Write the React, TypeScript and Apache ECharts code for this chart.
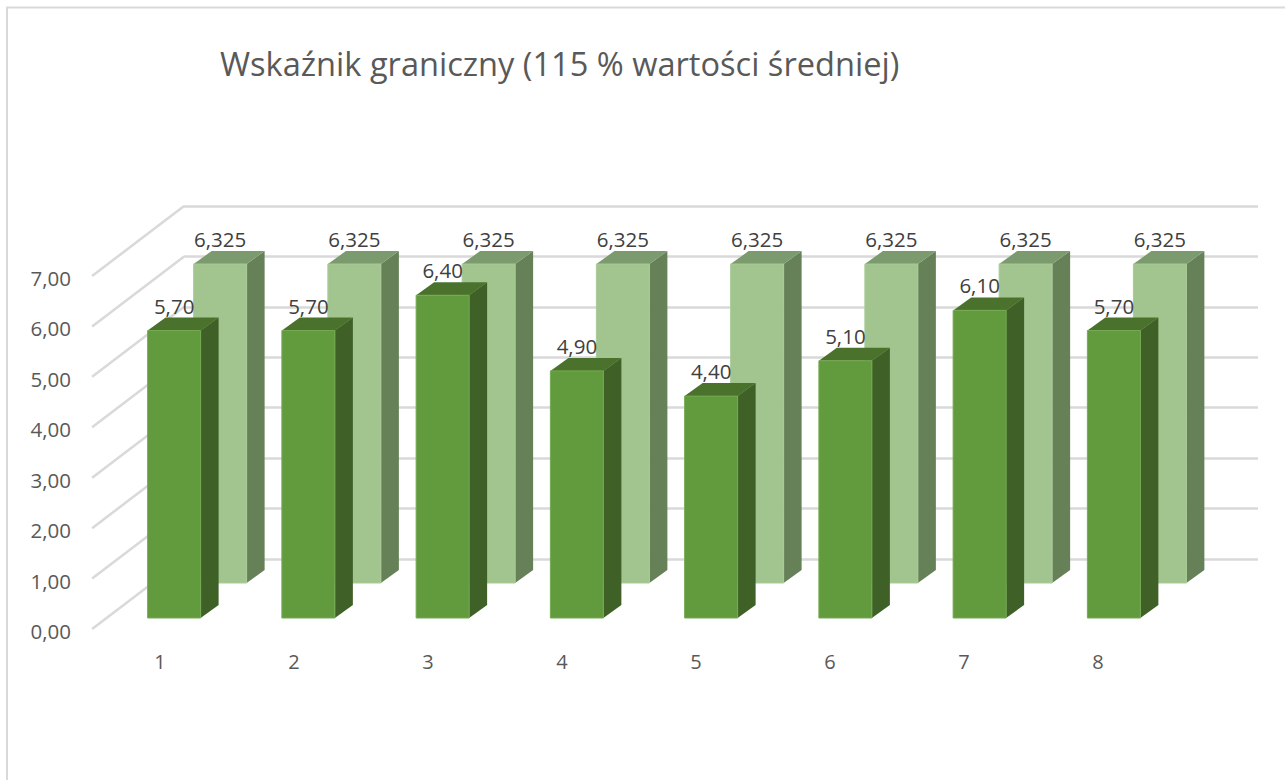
import React, { useEffect, useRef } from "react";
import * as echarts from "echarts";

const categories = ["1", "2", "3", "4", "5", "6", "7", "8"];
const actualValues = [5.7, 5.7, 6.4, 4.9, 4.4, 5.1, 6.1, 5.7];
const limitValues = [6.325, 6.325, 6.325, 6.325, 6.325, 6.325, 6.325, 6.325];
const actualLabels = ["5,70", "5,70", "6,40", "4,90", "4,40", "5,10", "6,10", "5,70"];
const limitLabels = ["6,325", "6,325", "6,325", "6,325", "6,325", "6,325", "6,325", "6,325"];
const axisTicks = [0, 1, 2, 3, 4, 5, 6, 7];
const titleText = "Wskaźnik graniczny (115 % wartości średniej)";
const FONT = "'Open Sans', sans-serif";

const backFace = { face: "#A2C58F", side: "#668058", top: "#7B9A6E", edge: "#A9CB96" };
const frontFace = { face: "#629A3E", side: "#3F6127", top: "#4A722C", edge: "#75AA52" };

const FLOOR_DX = -92;
const FLOOR_DY = 70;
const BAR_W = 53;
const DEPTH_X = 18;
const DEPTH_Y = 13;

function barRenderer(values: number[], xOff: number, yOff: number, c: typeof backFace) {
  return (params: any, api: any) => {
    const i = params.dataIndex;
    const base = api.coord([i, 0]);
    const top = api.coord([i, values[i]]);
    const x0 = base[0] + xOff;
    const x1 = x0 + BAR_W;
    const yb = base[1] + yOff;
    const yt = top[1] + yOff;
    return {
      type: "group",
      children: [
        { type: "polygon", shape: { points: [[x1, yb], [x1 + DEPTH_X, yb - DEPTH_Y], [x1 + DEPTH_X, yt - DEPTH_Y], [x1, yt]] }, style: { fill: c.side } },
        { type: "polygon", shape: { points: [[x0, yt], [x1, yt], [x1 + DEPTH_X, yt - DEPTH_Y], [x0 + DEPTH_X, yt - DEPTH_Y]] }, style: { fill: c.top } },
        { type: "rect", shape: { x: x0, y: yt, width: BAR_W, height: yb - yt }, style: { fill: c.face, stroke: c.edge, lineWidth: 1 } },
      ],
    };
  };
}

function labelRenderer(values: number[], labels: string[], xOff: number, yOff: number) {
  return (params: any, api: any) => {
    const i = params.dataIndex;
    const top = api.coord([i, values[i]]);
    return {
      type: "text",
      x: top[0] + xOff + BAR_W / 2,
      y: top[1] + yOff - 25,
      style: { text: labels[i], fill: "#404040", font: `20.5px ${FONT}`, align: "center", verticalAlign: "middle" },
    };
  };
}

export default function App() {
  const ref = useRef<HTMLDivElement>(null);
  useEffect(() => {
    const chart = echarts.init(ref.current!, undefined, { renderer: "svg" });
    chart.setOption({
      animation: false,
      backgroundColor: "#fff",
      title: {
        text: titleText,
        left: 215,
        top: 42,
        textStyle: { fontFamily: FONT, fontSize: 32.6, fontWeight: "normal", color: "#595959" },
      },
      grid: [
        { left: 184, top: 206, width: 1074, height: 353 },
        { left: 93, top: 278, width: 1072, height: 353 },
      ],
      xAxis: [
        { type: "category", gridIndex: 0, data: categories, axisLine: { show: false }, axisTick: { show: false }, axisLabel: { show: false }, splitLine: { show: false } },
        {
          type: "category", gridIndex: 1, data: categories,
          axisLine: { show: false }, axisTick: { show: false }, splitLine: { show: false },
          axisLabel: { fontFamily: FONT, fontSize: 20, color: "#595959", margin: 20 },
        },
      ],
      yAxis: [
        {
          type: "value", gridIndex: 0, min: 0, max: 7, interval: 1,
          axisLine: { show: false }, axisTick: { show: false }, axisLabel: { show: false },
          splitLine: { show: true, lineStyle: { color: "#D9D9D9", width: 2.5 } },
        },
        {
          type: "value", gridIndex: 1, min: 0, max: 7, interval: 1,
          axisLine: { show: false }, axisTick: { show: false }, splitLine: { show: false },
          axisLabel: { fontFamily: FONT, fontSize: 20.5, color: "#595959", margin: 22, formatter: (v: number) => v.toFixed(2).replace(".", ",") },
        },
      ],
      series: [
        {
          type: "custom", name: "Ściana", xAxisIndex: 0, yAxisIndex: 0, z: 1, silent: true,
          data: axisTicks.map((t) => [0, t]),
          renderItem: (params: any, api: any) => {
            const p = api.coord([0, axisTicks[params.dataIndex]]);
            const x = p[0] - 67;
            return {
              type: "line",
              shape: { x1: x, y1: p[1], x2: x + FLOOR_DX, y2: p[1] + FLOOR_DY },
              style: { stroke: "#D9D9D9", lineWidth: 2.5 },
            };
          },
        },
        {
          type: "custom", name: "Wskaźnik graniczny", xAxisIndex: 0, yAxisIndex: 0, z: 2,
          data: limitValues.map((v, i) => [i, v]),
          renderItem: barRenderer(limitValues, -31 - BAR_W / 2, 24, backFace),
        },
        {
          type: "custom", name: "Wskaźnik", xAxisIndex: 0, yAxisIndex: 0, z: 3,
          data: actualValues.map((v, i) => [i, v]),
          renderItem: barRenderer(actualValues, -77 - BAR_W / 2, 59, frontFace),
        },
        {
          type: "custom", name: "Etykiety graniczne", xAxisIndex: 0, yAxisIndex: 0, z: 4,
          data: limitValues.map((v, i) => [i, v]),
          renderItem: labelRenderer(limitValues, limitLabels, -31 - BAR_W / 2, 24),
        },
        {
          type: "custom", name: "Etykiety", xAxisIndex: 0, yAxisIndex: 0, z: 5,
          data: actualValues.map((v, i) => [i, v]),
          renderItem: labelRenderer(actualValues, actualLabels, -77 - BAR_W / 2, 59),
        },
        { type: "line", xAxisIndex: 1, yAxisIndex: 1, data: [], silent: true },
      ],
      graphic: [
        { type: "rect", shape: { x: 7, y: 7.5, width: 1290, height: 790 }, style: { fill: "none", stroke: "#D9D9D9", lineWidth: 2 }, z: 0, silent: true },
      ],
    });
    return () => chart.dispose();
  }, []);
  return <div ref={ref} style={{ position: "fixed", left: 0, top: 0, width: 1285, height: 780 }} />;
}
